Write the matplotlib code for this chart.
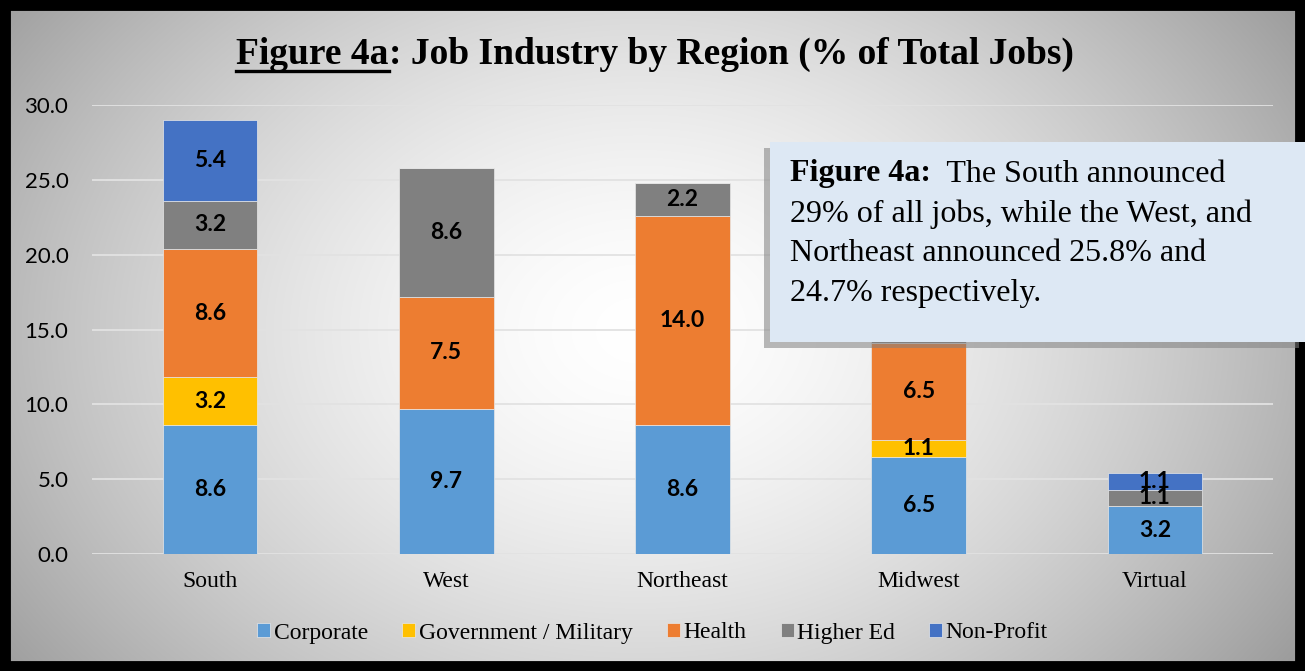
import matplotlib.pyplot as plt
import numpy as np
from matplotlib.patches import Rectangle

# Share of total jobs (%) by region and industry
regions = ['South', 'West', 'Northeast', 'Midwest', 'Virtual']
industries = ['Corporate', 'Government / Military', 'Health', 'Higher Ed', 'Non-Profit']
corporate = [8.6, 9.7, 8.6, 6.5, 3.2]
government = [3.2, 0.0, 0.0, 1.1, 0.0]
health = [8.6, 7.5, 14.0, 6.5, 0.0]
higher_ed = [3.2, 8.6, 2.2, 1.1, 1.1]
non_profit = [5.4, 0.0, 0.0, 0.0, 1.1]
colors = ['#5B9BD5', '#FFC000', '#ED7D31', '#808080', '#4472C4']

W, H = 1305, 671
fig = plt.figure(figsize=(W / 100, H / 100), dpi=100)
serif = 'Liberation Serif'

# radial grey background
bg = fig.add_axes([0, 0, 1, 1], zorder=-10)
yy, xx = np.mgrid[0:H, 0:W]
r = np.sqrt(((xx - 640) / 700.0) ** 2 + ((yy - 330) / 520.0) ** 2)
shade = 1.0 - 0.32 * np.clip(r, 0, 1.2) ** 1.6
bg.imshow(np.dstack([shade] * 3), aspect='auto', extent=[0, 1, 0, 1], origin='upper')
bg.axis('off')

ax = fig.add_axes([92 / W, (H - 554) / H, (1273 - 92) / W, (554 - 105) / H])
ax.patch.set_alpha(0)

series = [corporate, government, health, higher_ed, non_profit]
x = np.arange(len(regions))
bottom = np.zeros(len(regions))
for name, vals, c in zip(industries, series, colors):
    vals = np.array(vals)
    ax.bar(x, vals, 0.4, bottom=bottom, color=c, label=name, zorder=3,
           edgecolor='#e8e8e8', linewidth=0.5)
    for xi, b, v in zip(x, bottom, vals):
        if v > 0:
            ax.text(xi, b + v / 2, f'{v:.1f}', ha='center', va='center',
                    fontsize=16.5, fontweight='bold', family='Lato', zorder=4)
    bottom += vals

ax.set_xlim(-0.5, len(regions) - 0.5)
ax.set_ylim(0, 30)
ax.set_yticks(np.arange(0, 31, 5))
ax.set_yticklabels([f'{v:.1f}' for v in np.arange(0, 31, 5)], family='Lato', fontsize=16)
ax.set_xticks(x)
ax.set_xticklabels(regions, family=serif, fontsize=17)
ax.tick_params(length=0)
ax.tick_params(axis='x', pad=12)
ax.tick_params(axis='y', pad=17)
ax.grid(axis='y', color='#e2e2e2', linewidth=1.3, zorder=0)
for s in ax.spines.values():
    s.set_visible(False)

leg = fig.legend(loc='center', bbox_to_anchor=(0.5, (H - 633) / H), ncol=5, frameon=False,
                 prop={'family': serif, 'size': 17}, handlelength=0.55, handleheight=0.55,
                 handletextpad=0.15, columnspacing=1.45)

# title with underlined figure number
fig.canvas.draw()
rend = fig.canvas.get_renderer()
ty = (H - 54) / H
t1 = fig.text(0, ty, 'Figure 4a', family=serif, fontsize=27, fontweight='bold', va='center')
t2 = fig.text(0, ty, ': Job Industry by Region (% of Total Jobs)', family=serif,
              fontsize=27, fontweight='bold', va='center')
w1 = t1.get_window_extent(rend).width
w2 = t2.get_window_extent(rend).width
x0 = 655 - (w1 + w2) / 2
t1.set_x(x0 / W)
t2.set_x((x0 + w1) / W)
uy = (H - 71) / H
fig.add_artist(plt.Line2D([x0 / W, (x0 + w1) / W], [uy, uy], color='black', lw=2.4,
                          transform=fig.transFigure))

# annotation box with drop shadow
bx0, by0, bx1, by1 = 770, 142, 1305, 342
fig.add_artist(Rectangle(((bx0 - 6) / W, (H - by1 - 6) / H), (bx1 - bx0) / W, (by1 - by0) / H,
                         transform=fig.transFigure, facecolor='#808080', alpha=0.55,
                         edgecolor='none', zorder=8))
fig.add_artist(Rectangle((bx0 / W, (H - by1) / H), (bx1 - bx0) / W, (by1 - by0) / H,
                         transform=fig.transFigure, facecolor='#DDE8F4', edgecolor='none',
                         zorder=9))
lines = ['29% of all jobs, while the West, and', 'Northeast announced 25.8% and',
         '24.7% respectively.']
ly = 174
tb = fig.text(790 / W, (H - ly) / H, 'Figure 4a:', family=serif, fontsize=23,
              fontweight='bold', va='center', zorder=10)
wb = tb.get_window_extent(rend).width
fig.text((790 + wb) / W, (H - ly) / H, '  The South announced', family=serif, fontsize=23,
         va='center', zorder=10)
for i, line in enumerate(lines):
    fig.text(790 / W, (H - ly - 40 * (i + 1)) / H, line, family=serif, fontsize=23,
             va='center', zorder=10)

# black frame
fig.add_artist(Rectangle((0, 0), 1, 1, transform=fig.transFigure, fill=False,
                         edgecolor='black', linewidth=15, zorder=7))

fig.savefig('out.png', dpi=100)
